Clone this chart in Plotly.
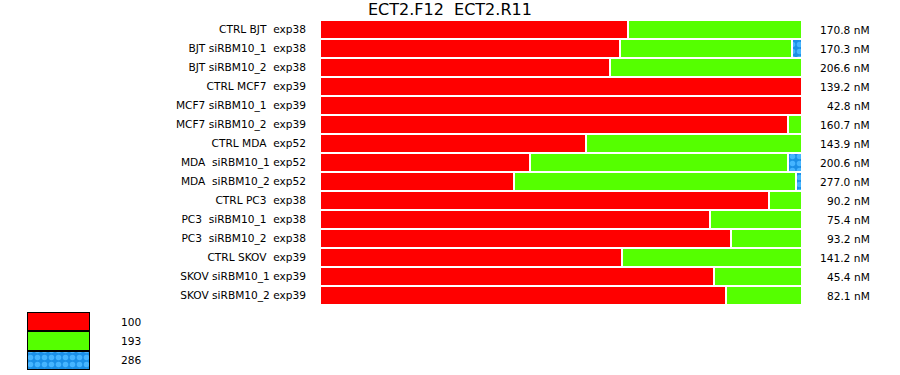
import plotly.graph_objects as go

W, H = 900, 375
NB = "\u00a0"

samples = [
    "CTRL BJT  exp38", "BJT siRBM10_1  exp38", "BJT siRBM10_2  exp38",
    "CTRL MCF7  exp39", "MCF7 siRBM10_1  exp39", "MCF7 siRBM10_2  exp39",
    "CTRL MDA  exp52", "MDA  siRBM10_1 exp52", "MDA  siRBM10_2 exp52",
    "CTRL PC3  exp38", "PC3  siRBM10_1  exp38", "PC3  siRBM10_2  exp38",
    "CTRL SKOV  exp39", "SKOV siRBM10_1 exp39", "SKOV siRBM10_2 exp39",
]
pct_100 = [63.8, 62.3, 60.2, 100.0, 100.0, 97.1, 55.2, 43.5, 40.2, 93.1, 81.0, 85.2, 62.7, 81.7, 84.2]
pct_193 = [36.2, 35.6, 39.8, 0.0, 0.0, 2.9, 44.8, 53.5, 58.5, 6.9, 19.0, 14.8, 37.3, 18.3, 15.8]
pct_286 = [0.0, 2.1, 0.0, 0.0, 0.0, 0.0, 0.0, 3.0, 1.3, 0.0, 0.0, 0.0, 0.0, 0.0, 0.0]
totals = ["170.8 nM", "170.3 nM", "206.6 nM", "139.2 nM", "42.8 nM", "160.7 nM", "143.9 nM",
          "200.6 nM", "277.0 nM", "90.2 nM", "75.4 nM", "93.2 nM", "141.2 nM", "45.4 nM", "82.1 nM"]
legend_labels = ["100", "193", "286"]
title = "ECT2.F12  ECT2.R11"

RED, GREEN, BLUE, BLUE_DOT = "#ff0000", "#55ff00", "#1a8fe6", "#45b5ff"
FONT = "DejaVu Sans"
FS = 10.6

labels = [s.replace(" ", NB) for s in samples]


def pattern():
    return dict(shape=".", bgcolor=BLUE, fgcolor=BLUE_DOT, fgopacity=1,
                size=7, solidity=0.5, fillmode="overlay")


fig = go.Figure()
series = [(pct_100, RED), (pct_193, GREEN), (pct_286, BLUE)]
for vals, col in series:
    marker = dict(color=col, line=dict(color="white", width=2))
    if col == BLUE:
        marker["pattern"] = pattern()
    fig.add_trace(go.Bar(x=vals, y=labels, orientation="h", marker=marker,
                         showlegend=False, hoverinfo="skip", xaxis="x", yaxis="y"))

# legend drawn as a small chart of its own
leg_cols = [RED, GREEN, BLUE]
for i, (lab, col) in enumerate(zip(legend_labels, leg_cols)):
    marker = dict(color=col, line=dict(color="black", width=2))
    if col == BLUE:
        marker["pattern"] = pattern()
    fig.add_trace(go.Bar(x=[1], y=[i], width=[1], orientation="h", marker=marker,
                         showlegend=False, hoverinfo="skip", xaxis="x2", yaxis="y2"))

annotations = []
for lab, tot in zip(labels, totals):
    annotations.append(dict(x=872 / W, y=lab, xref="paper", yref="y", text=tot,
                            showarrow=False, xanchor="right", yanchor="middle",
                            font=dict(family=FONT, size=FS, color="#000")))
for i, lab in enumerate(legend_labels):
    annotations.append(dict(x=119 / W, y=i, xref="paper", yref="y2", text=lab,
                            showarrow=False, xanchor="left", yanchor="middle",
                            font=dict(family=FONT, size=FS, color="#000")))
annotations.append(dict(x=450 / W, y=1 - 10 / H, xref="paper", yref="paper", text=title.replace(" ", NB),
                        showarrow=False, xanchor="center", yanchor="middle",
                        font=dict(family=FONT, size=16, color="#000")))

fig.update_layout(
    width=W, height=H,
    margin=dict(l=0, r=0, t=0, b=0),
    paper_bgcolor="white", plot_bgcolor="white",
    barmode="stack", bargap=0,
    showlegend=False,
    annotations=annotations,
    xaxis=dict(domain=[320 / W, 802 / W], range=[0, 100], visible=False, fixedrange=True),
    yaxis=dict(domain=[1 - 305 / H, 1 - 20 / H], autorange="reversed", type="category",
               categoryorder="array", categoryarray=labels, showgrid=False, zeroline=False,
               showline=False, ticks="", ticklabelstandoff=13,
               tickfont=dict(family=FONT, size=FS, color="#000")),
    xaxis2=dict(domain=[27 / W, 90 / W], range=[0, 1], visible=False, anchor="y2"),
    yaxis2=dict(domain=[1 - 370 / H, 1 - 312 / H], range=[2.5, -0.5], type="linear",
                visible=False, anchor="x2"),
)

fig.write_html("out.html")
